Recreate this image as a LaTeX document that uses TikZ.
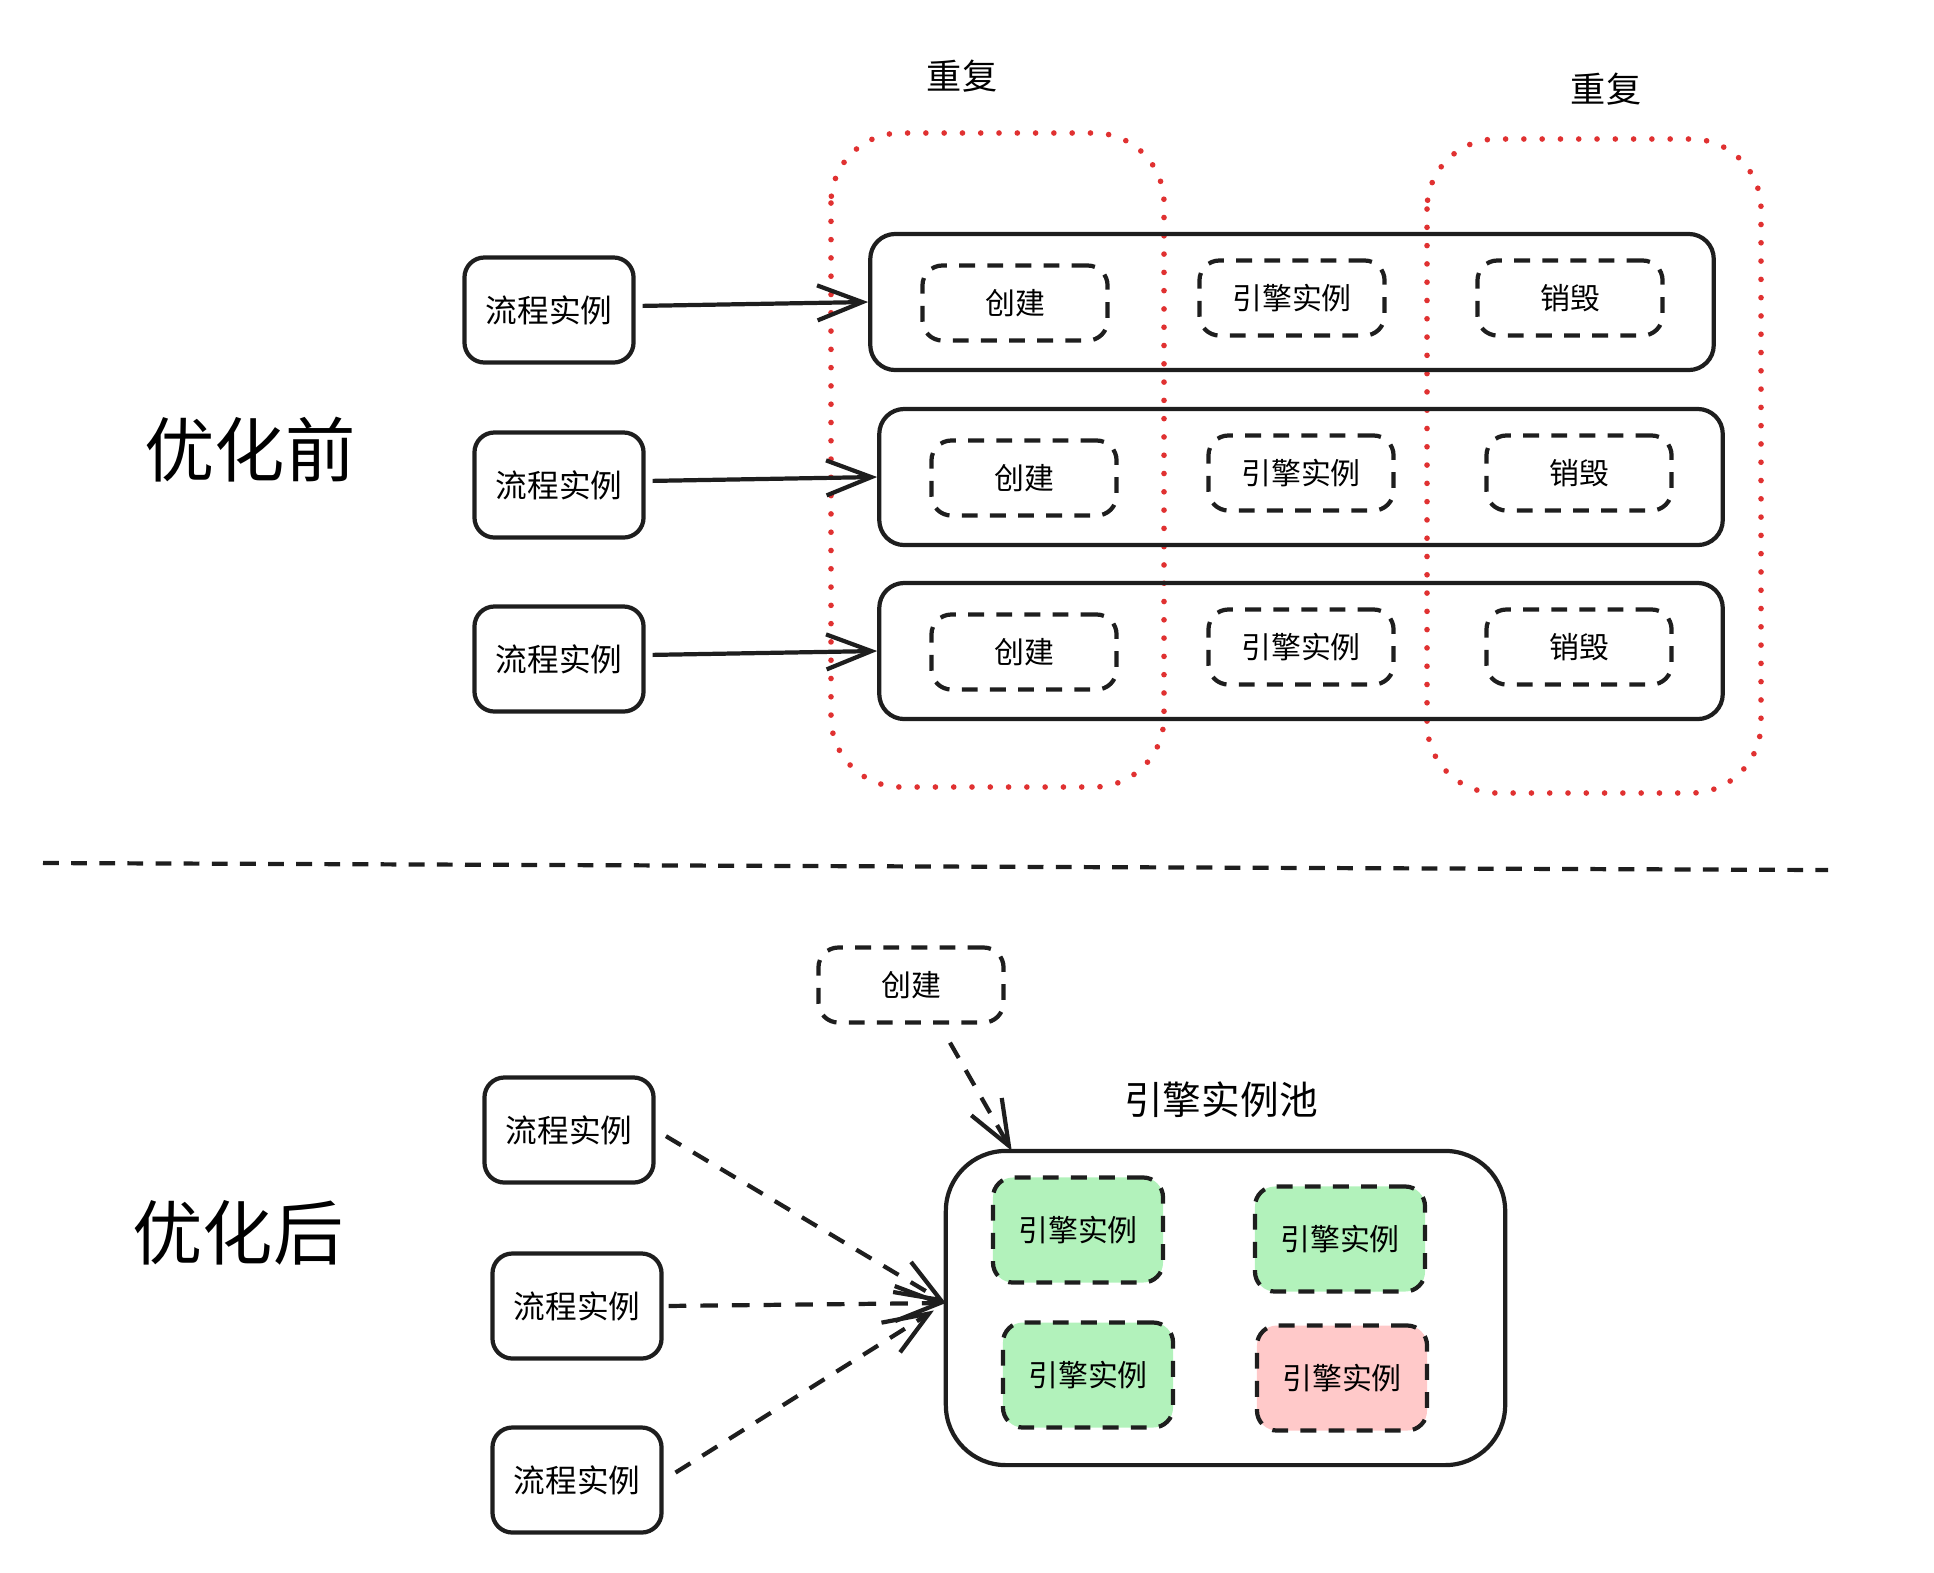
\documentclass[tikz,border=0pt]{standalone}
\usepackage{fontspec}
\setmainfont{Noto Sans CJK SC}
\usetikzlibrary{arrows.meta,positioning,calc}

\definecolor{tinta}{HTML}{1E1E1E}
\definecolor{vermelho}{HTML}{E03131}
\definecolor{verde}{HTML}{B2F2BB}
\definecolor{rosa}{HTML}{FFC9C9}

\tikzset{
  caixa/.style={draw=tinta, line width=1.2pt, rounded corners=0.2cm,
    minimum width=1.69cm, minimum height=1.05cm, font=\fontsize{9}{11}\selectfont},
  etapa/.style={draw=tinta, line width=1.2pt, dash pattern=on 4.5pt off 3.5pt,
    rounded corners=0.2cm, minimum width=1.85cm, minimum height=0.75cm,
    font=\fontsize{8.5}{10}\selectfont},
  motor/.style={etapa, minimum width=1.7cm, minimum height=1.05cm},
  linha/.style={draw=tinta, line width=1.2pt, rounded corners=0.25cm,
    minimum width=8.43cm, minimum height=1.36cm},
  seta/.style={draw=tinta, line width=1.2pt, -{Straight Barb[length=4.5mm,width=3.5mm]}},
  tracejada/.style={seta, dash pattern=on 5pt off 4pt},
  repete/.style={draw=vermelho, line width=1.6pt, dash pattern=on 0pt off 5.2pt,
    line cap=round, rounded corners=0.7cm},
  titulo/.style={font=\fontsize{20}{24}\selectfont},
}

\begin{document}
\begin{tikzpicture}[x=0.01cm, y=-0.01cm]
        \useasboundingbox (0,0) rectangle (1934,1572);
        % antes: grupos repetidos
        \draw[repete] (831,133) rectangle (1164,787);
        \draw[repete] (1427,139) rectangle (1761,793);
        \node[font=\fontsize{10}{12}\selectfont] (rep1) at (962,76) {重复};
        \node[font=\fontsize{10}{12}\selectfont] (rep2) at (1606,89) {重复};
        \node[titulo] (antes) at (250,450) {优化前};
        % linhas de execucao
        \foreach \i/\y/\xl/\xp in {1/302/1292/549, 2/477/1301/559, 3/651/1301/559} {
          \node[linha] (linha\i) at (\xl,\y) {};
          \node[caixa] (proc\i) at (\xp,\y+8) {流程实例};
          \node[etapa] (cria\i) at (\xl-277,\y+1) {创建};
          \node[etapa] (eng\i) at (\xl,\y-4) {引擎实例};
          \node[etapa] (dest\i) at (\xl+278,\y-4) {销毁};
          \draw[seta, shorten <=0.07cm] ($(proc\i.east)+(0,-4)$) -- (linha\i.west);
        }
        % separador
        \draw[tinta, line width=1.2pt, dash pattern=on 4.5pt off 3.5pt] (43,863) -- (1828,870);
        % depois: pool
        \node[titulo] (depois) at (238,1233) {优化后};
        \node[draw=tinta, line width=1.2pt, rounded corners=0.6cm,
          minimum width=5.59cm, minimum height=3.14cm] (pool) at (1225.5,1308) {};
        \node[font=\fontsize{11}{13}\selectfont] (nomepool) at (1221,1100) {引擎实例池};
        \node[motor, fill=verde] (m1) at (1078,1230) {引擎实例};
        \node[motor, fill=verde] (m2) at (1340,1239) {引擎实例};
        \node[motor, fill=verde] (m3) at (1088,1375) {引擎实例};
        \node[motor, fill=rosa] (m4) at (1342,1378) {引擎实例};
        \node[etapa] (cria) at (911,985) {创建};
        \draw[tracejada] ($(cria.south)+(39,18)$) -- ($(pool.north west)+(68,2)$);
        % processos
        \node[caixa] (proc4) at (569,1130) {流程实例};
        \node[caixa] (proc5) at (577,1306) {流程实例};
        \node[caixa] (proc6) at (577,1480) {流程实例};
        \coordinate (alvo) at ($(pool.west)+(2,-5)$);
        \draw[tracejada, shorten <=0.12cm] (proc4.east) -- (alvo);
        \draw[tracejada, shorten <=0.05cm] (proc5.east) -- (alvo);
        \draw[tracejada, shorten <=0.14cm, shorten >=0.14cm] (proc6.east) -- (alvo);
      \end{tikzpicture}
\end{document}
